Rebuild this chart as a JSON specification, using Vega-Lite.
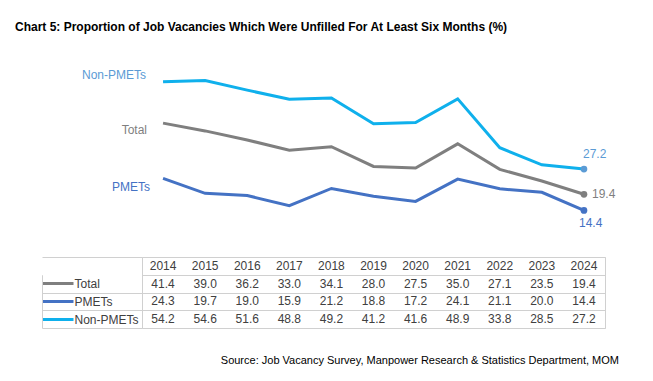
{
  "$schema": "https://vega.github.io/schema/vega-lite/v6.json",
  "padding": {"left": 15, "top": 21, "right": 5, "bottom": 5},
  "background": "white",
  "config": {"font": "Liberation Sans", "view": {"stroke": null}},
  "data": {"values": [
    {"year": 2014, "series": "Total", "value": 41.4},
    {"year": 2015, "series": "Total", "value": 39.0},
    {"year": 2016, "series": "Total", "value": 36.2},
    {"year": 2017, "series": "Total", "value": 33.0},
    {"year": 2018, "series": "Total", "value": 34.1},
    {"year": 2019, "series": "Total", "value": 28.0},
    {"year": 2020, "series": "Total", "value": 27.5},
    {"year": 2021, "series": "Total", "value": 35.0},
    {"year": 2022, "series": "Total", "value": 27.1},
    {"year": 2023, "series": "Total", "value": 23.5},
    {"year": 2024, "series": "Total", "value": 19.4},
    {"year": 2014, "series": "PMETs", "value": 24.3},
    {"year": 2015, "series": "PMETs", "value": 19.7},
    {"year": 2016, "series": "PMETs", "value": 19.0},
    {"year": 2017, "series": "PMETs", "value": 15.9},
    {"year": 2018, "series": "PMETs", "value": 21.2},
    {"year": 2019, "series": "PMETs", "value": 18.8},
    {"year": 2020, "series": "PMETs", "value": 17.2},
    {"year": 2021, "series": "PMETs", "value": 24.1},
    {"year": 2022, "series": "PMETs", "value": 21.1},
    {"year": 2023, "series": "PMETs", "value": 20.0},
    {"year": 2024, "series": "PMETs", "value": 14.4},
    {"year": 2014, "series": "Non-PMETs", "value": 54.2},
    {"year": 2015, "series": "Non-PMETs", "value": 54.6},
    {"year": 2016, "series": "Non-PMETs", "value": 51.6},
    {"year": 2017, "series": "Non-PMETs", "value": 48.8},
    {"year": 2018, "series": "Non-PMETs", "value": 49.2},
    {"year": 2019, "series": "Non-PMETs", "value": 41.2},
    {"year": 2020, "series": "Non-PMETs", "value": 41.6},
    {"year": 2021, "series": "Non-PMETs", "value": 48.9},
    {"year": 2022, "series": "Non-PMETs", "value": 33.8},
    {"year": 2023, "series": "Non-PMETs", "value": 28.5},
    {"year": 2024, "series": "Non-PMETs", "value": 27.2}
  ]},
  "bounds": "flush",
  "spacing": 0,
  "vconcat": [
    {
      "width": 463,
      "height": 194,
      "title": {
        "text": "Chart 5: Proportion of Job Vacancies Which Were Unfilled For At Least Six Months (%)",
        "anchor": "start",
        "frame": "group",
        "dx": -127,
        "offset": 20,
        "baseline": "alphabetic",
        "font": "Liberation Sans",
        "fontSize": 12,
        "fontWeight": "bold",
        "color": "#000000"
      },
      "view": {"stroke": null},
      "encoding": {
        "x": {"field": "year", "type": "ordinal", "scale": {"type": "point", "padding": 0.5}, "axis": null},
        "y": {"field": "value", "type": "quantitative", "scale": {"domain": [0, 60], "nice": false, "zero": false}, "axis": null}
      },
      "layer": [
        {
          "mark": {"type": "line", "strokeWidth": 3},
          "encoding": {
            "color": {"field": "series", "type": "nominal", "scale": {"domain": ["Total", "PMETs", "Non-PMETs"], "range": ["#7f7f7f", "#4472c4", "#0fb0ec"]}, "legend": null}
          }
        },
        {
          "transform": [{"filter": "datum.year === 2024"}],
          "mark": {"type": "point", "filled": true, "size": 45, "opacity": 1},
          "encoding": {
            "fill": {"field": "series", "type": "nominal", "scale": {"domain": ["Total", "PMETs", "Non-PMETs"], "range": ["#7f7f7f", "#4472c4", "#5b9bd5"]}, "legend": null}
          }
        },
        {
          "transform": [{"filter": "datum.year === 2014 && datum.series === 'Non-PMETs'"}],
          "mark": {"type": "text", "align": "right", "baseline": "middle", "dx": -17, "dy": -6.5, "fontSize": 12, "color": "#5b9bd5"},
          "encoding": {"text": {"field": "series"}}
        },
        {
          "transform": [{"filter": "datum.year === 2014 && datum.series === 'Total'"}],
          "mark": {"type": "text", "align": "right", "baseline": "middle", "dx": -16, "dy": 6.5, "fontSize": 12, "color": "#7f7f7f"},
          "encoding": {"text": {"field": "series"}}
        },
        {
          "transform": [{"filter": "datum.year === 2014 && datum.series === 'PMETs'"}],
          "mark": {"type": "text", "align": "right", "baseline": "middle", "dx": -13, "dy": 8.5, "fontSize": 12, "color": "#4472c4"},
          "encoding": {"text": {"field": "series"}}
        },
        {
          "transform": [{"filter": "datum.year === 2024 && datum.series === 'Non-PMETs'"}],
          "mark": {"type": "text", "align": "left", "baseline": "middle", "dx": -1, "dy": -15, "fontSize": 12, "color": "#5b9bd5"},
          "encoding": {"text": {"field": "value", "format": ".1f"}}
        },
        {
          "transform": [{"filter": "datum.year === 2024 && datum.series === 'Total'"}],
          "mark": {"type": "text", "align": "left", "baseline": "middle", "dx": 8, "dy": 0, "fontSize": 12, "color": "#7f7f7f"},
          "encoding": {"text": {"field": "value", "format": ".1f"}}
        },
        {
          "transform": [{"filter": "datum.year === 2024 && datum.series === 'PMETs'"}],
          "mark": {"type": "text", "align": "left", "baseline": "middle", "dx": -5, "dy": 12.5, "fontSize": 12, "color": "#4472c4"},
          "encoding": {"text": {"field": "value", "format": ".1f"}}
        }
      ]
    },
    {
      "width": 463,
      "height": 71,
      "title": {
        "text": "Source: Job Vacancy Survey, Manpower Research & Statistics Department, MOM",
        "orient": "bottom",
        "anchor": "end",
        "frame": "group",
        "dx": 14,
        "offset": 35,
        "baseline": "alphabetic",
        "fontSize": 11,
        "fontWeight": "normal",
        "color": "#000000"
      },
      "view": {"stroke": "#d0d0d0", "strokeWidth": 1},
      "resolve": {"axis": {"y": "independent"}},
      "layer": [
        {
          "mark": {"type": "text", "fontSize": 12, "color": "#404040", "baseline": "middle"},
          "encoding": {
            "x": {"field": "year", "type": "ordinal", "scale": {"type": "band", "paddingInner": 0, "paddingOuter": 0}, "axis": null},
            "y": {
              "field": "series", "type": "nominal",
              "scale": {"type": "band", "domain": ["Year", "Total", "PMETs", "Non-PMETs"], "paddingInner": 0, "paddingOuter": 0},
              "axis": {
                "orient": "left", "title": null, "domain": false,
                "ticks": true, "tickBand": "extent", "tickSize": 100, "tickColor": "#d0d0d0", "tickWidth": 1,
                "tickOpacity": {"condition": {"test": "datum.value === 'Year'", "value": 0}, "value": 1},
                "grid": true, "gridColor": "#d0d0d0", "gridWidth": 1,
                "labels": true, "labelAlign": "left", "labelBaseline": "middle", "labelPadding": -32,
                "labelFontSize": 12, "labelColor": "#404040", "labelFont": "Liberation Sans",
                "labelExpr": "datum.value === 'Year' ? '' : datum.label"
              }
            },
            "text": {"field": "value", "type": "quantitative", "format": ".1f"}
          }
        },
        {
          "transform": [{"filter": "datum.series === 'Total'"}],
          "mark": {"type": "text", "fontSize": 12, "color": "#404040", "baseline": "middle"},
          "encoding": {
            "x": {"field": "year", "type": "ordinal", "axis": null},
            "y": {
              "datum": "Year", "type": "nominal",
              "axis": {
                "orient": "left", "title": null, "offset": 100,
                "domain": true, "domainColor": "#d0d0d0", "domainWidth": 1, "domainDash": [0, 17.75, 60],
                "values": ["Total", "PMETs", "Non-PMETs"],
                "ticks": true, "tickSize": -31, "tickWidth": 3,
                "tickColor": {"condition": [{"test": "datum.value === 'Total'", "value": "#7f7f7f"}, {"test": "datum.value === 'PMETs'", "value": "#4472c4"}], "value": "#0fb0ec"},
                "grid": false, "labels": false
              }
            },
            "text": {"field": "year", "type": "nominal"}
          }
        }
      ]
    }
  ]
}
